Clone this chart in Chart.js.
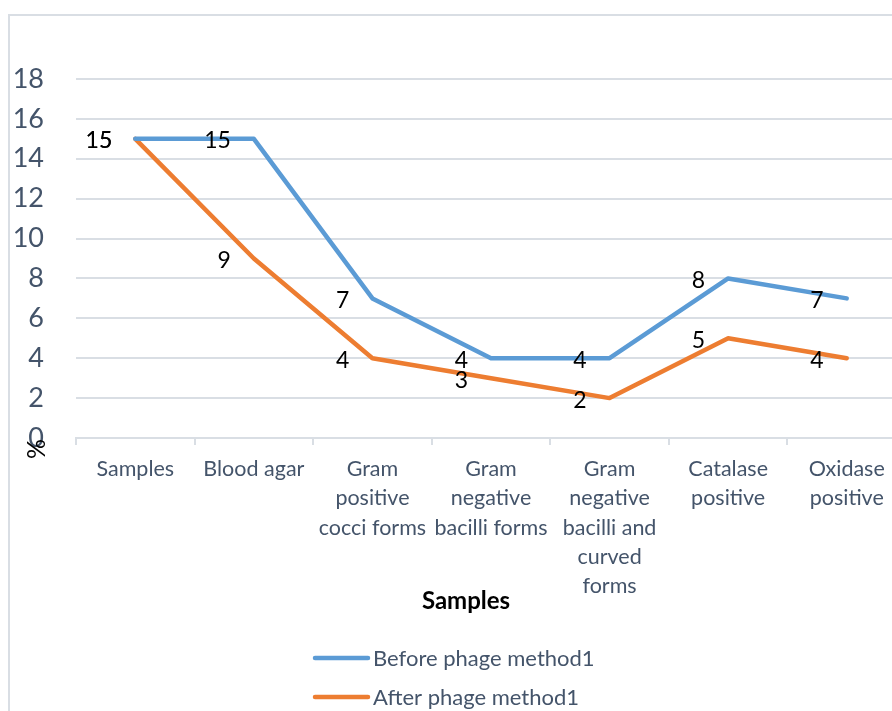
<!DOCTYPE html>
<html>
<head>
<meta charset="utf-8">
<script src="https://cdn.jsdelivr.net/npm/chart.js@4/dist/chart.umd.min.js"></script>
<style>
  html, body { margin: 0; padding: 0; background: #fff; overflow: hidden; }
  #page { position: relative; width: 892px; height: 711px; overflow: hidden; }
  #frame { position: absolute; left: 8px; top: 14px; width: 1000px; height: 800px;
           border-left: 2px solid #D9DEE4; border-top: 2px solid #D9DEE4; }
  #wrap { position: absolute; left: 0; top: 0; width: 910px; height: 711px; }
</style>
</head>
<body>
<div id="page">
  <div id="frame"></div>
  <div id="wrap"><canvas id="chart"></canvas></div>
</div>
<script>
const categories = [
    "Samples",
    "Blood agar",
    ["Gram", "positive", "cocci forms"],
    ["Gram", "negative", "bacilli forms"],
    ["Gram", "negative", "bacilli and", "curved", "forms"],
    ["Catalase", "positive"],
    ["Oxidase", "positive"]
];
const beforeValues = [15, 15, 7, 4, 4, 8, 7];
const afterValues = [15, 9, 4, 3, 2, 5, 4];
const seriesNames = ["Before phage method1", "After phage method1"];
const seriesColors = ["#5B9BD5", "#ED7D31"];
const xTitle = "Samples";
const yTitle = "%";

const textColor = "#44546A";
const gridColor = "#D9DEE4";
const fontName = "Lato, 'Open Sans', sans-serif";

// value labels to the left of each point, like Excel
const pointLabels = {
    id: "pointLabels",
    afterDatasetsDraw(chart) {
        const ctx = chart.ctx;
        ctx.save();
        ctx.font = "23px " + fontName;
        ctx.fillStyle = "#000";
        ctx.textAlign = "right";
        ctx.textBaseline = "middle";
        chart.data.datasets.forEach((ds, i) => {
            chart.getDatasetMeta(i).data.forEach((pt, j) => {
                ctx.fillText(ds.data[j], pt.x - 23, pt.y + 2);
            });
        });
        ctx.restore();
    }
};

// stacked legend, x axis title and the "%" axis title
const extras = {
    id: "extras",
    afterDraw(chart) {
        const ctx = chart.ctx;
        ctx.save();
        chart.data.datasets.forEach((ds, i) => {
            const y = 658 + i * 39;
            ctx.strokeStyle = ds.borderColor;
            ctx.lineWidth = 4.5;
            ctx.lineCap = "round";
            ctx.beginPath();
            ctx.moveTo(315, y);
            ctx.lineTo(368, y);
            ctx.stroke();
            ctx.fillStyle = textColor;
            ctx.font = "22px " + fontName;
            ctx.textAlign = "left";
            ctx.textBaseline = "middle";
            ctx.fillText(ds.label, 373, y + 1);
        });

        ctx.fillStyle = "#000";
        ctx.font = "bold 24px " + fontName;
        ctx.textAlign = "center";
        ctx.textBaseline = "middle";
        ctx.fillText(xTitle, 466, 601);

        ctx.translate(37, 449);
        ctx.rotate(-Math.PI / 2);
        ctx.font = "25px " + fontName;
        ctx.fillText(yTitle, 0, 0);
        ctx.restore();
    }
};

new Chart(document.getElementById("chart"), {
    type: "line",
    data: {
        labels: categories,
        datasets: [
            {
                label: seriesNames[0],
                data: beforeValues,
                borderColor: seriesColors[0],
                backgroundColor: seriesColors[0],
                borderWidth: 4.5,
                pointRadius: 0,
                borderJoinStyle: "round",
                borderCapStyle: "round",
                tension: 0
            },
            {
                label: seriesNames[1],
                data: afterValues,
                borderColor: seriesColors[1],
                backgroundColor: seriesColors[1],
                borderWidth: 4.5,
                pointRadius: 0,
                borderJoinStyle: "round",
                borderCapStyle: "round",
                tension: 0
            }
        ]
    },
    options: {
        responsive: true,
        maintainAspectRatio: false,
        animation: false,
        layout: { padding: { top: 79, right: 4, bottom: 86, left: 0 } },
        plugins: {
            legend: { display: false },
            tooltip: { enabled: false }
        },
        scales: {
            x: {
                offset: true,
                grid: {
                    offset: true,
                    drawOnChartArea: false,
                    drawTicks: true,
                    tickLength: 7,
                    color: gridColor,
                    lineWidth: 2
                },
                border: { display: true, color: gridColor, width: 2 },
                ticks: {
                    autoSkip: false,
                    maxRotation: 0,
                    minRotation: 0,
                    padding: 10,
                    color: textColor,
                    font: { family: fontName, size: 21.5, lineHeight: 1.35 }
                },
                afterFit(scale) { scale.height = 187; }
            },
            y: {
                min: 0,
                max: 18,
                ticks: {
                    stepSize: 2,
                    padding: 32,
                    color: textColor,
                    font: { family: fontName, size: 27 }
                },
                grid: { color: gridColor, lineWidth: 2, drawTicks: false },
                border: { display: false },
                afterFit(scale) { scale.width = 76; }
            }
        }
    },
    plugins: [pointLabels, extras]
});
</script>
</body>
</html>
